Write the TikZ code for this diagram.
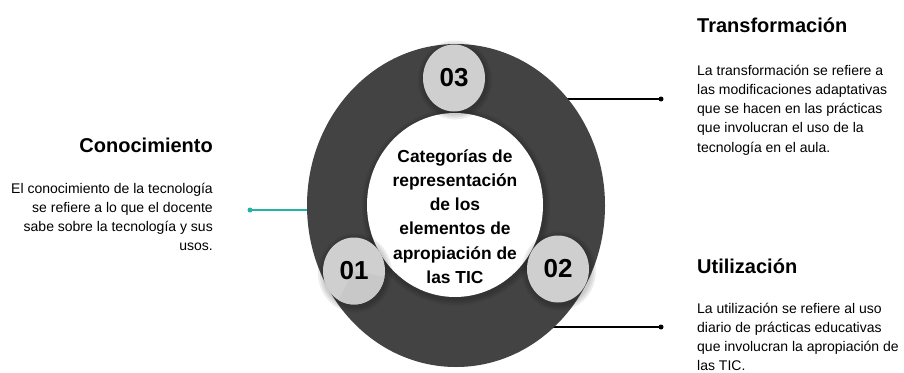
\documentclass[tikz,border=0pt]{standalone}
\usepackage{fontspec}
\setmainfont{Liberation Sans}
\usetikzlibrary{shapes.geometric}
\definecolor{ringgray}{HTML}{434343}
\definecolor{numgray}{HTML}{CFCFCF}
\definecolor{numdark}{HTML}{C8C8C8}
\definecolor{tealline}{HTML}{26B3A3}
\begin{document}
\begin{tikzpicture}[x=1pt,y=-1pt,
  titletext/.style={font=\bfseries\fontsize{20}{24}\selectfont, inner sep=0},
  bodytext/.style={font=\fontsize{14}{19.3}\selectfont, inner sep=0},
  numcirc/.style={ellipse, fill=numgray, minimum width=62, minimum height=67, inner sep=0, font=\bfseries\fontsize{26}{26}\selectfont},
  enddot/.style={circle, fill, inner sep=0, minimum size=5},
  softshadow/.style={fill=black, opacity=0.07}]
\useasboundingbox (0,0) rectangle (904,372);
\fill[white] (0,0) rectangle (904,372);
\coordinate (rc) at (456,205.5);
% connectors (drawn under the ring)
\node[enddot, tealline] (kdot) at (250,210) {};
\node[enddot] (tdot) at (661,99) {};
\node[enddot] (udot) at (661,327) {};
\draw[tealline, line width=1.4] (kdot.center) -- (rc |- kdot);
\draw[line width=1.2] (tdot.center) -- (rc |- tdot);
\draw[line width=1.2] (udot.center) -- (rc |- udot);
% ring
\node[ellipse, fill=ringgray, minimum width=298, minimum height=323, inner sep=0] (ring) at (rc) {};
% shadow of the core
\foreach \d in {2,4,6}{\fill[softshadow] (456,207) ellipse [x radius=88+\d, y radius=92+\d];}
\node[ellipse, fill=white, minimum width=176, minimum height=184, inner sep=0] (core) at (455,205) {};
\node[font=\bfseries\fontsize{17.4}{24.3}\selectfont, align=center, anchor=base, inner sep=0] (coretext) at (455,283.5)
  {Categorías de\\representación\\de los\\elementos de\\apropiación de\\las TIC};
% number circles with shadows
\foreach \x/\y in {454/78,354/271,558/269}{
  \foreach \d in {2,4,6}{\fill[softshadow] (\x+1,\y+2) ellipse [x radius=31+\d, y radius=33.5+\d];}
}
\node[numcirc] (n03) at (454,78) {03};
\node[numcirc] (n01) at (354,271) {};
\fill[numdark] (354,271) -- ++(10:31 and 33.5) arc[start angle=10, end angle=120, x radius=31, y radius=33.5] -- cycle;
\node[font=\bfseries\fontsize{26}{26}\selectfont, inner sep=0] (n01text) at (354,271) {01};
\node[numcirc] (n02) at (558,269) {02};
% texts
\node[titletext, anchor=base east] (ktitle) at (213,152) {Conocimiento};
\node[bodytext, align=right, anchor=base east] (kbody) at (213,250.9)
  {El conocimiento de la tecnología\\se refiere a lo que el docente\\sabe sobre la tecnología y sus\\usos.};
\node[titletext, anchor=base west] (ttitle) at (697,32) {Transformación};
\node[bodytext, align=left, anchor=base west] (tbody) at (697,152.2)
  {La transformación se refiere a\\las modificaciones adaptativas\\que se hacen en las prácticas\\que involucran el uso de la\\tecnología en el aula.};
\node[titletext, anchor=base west] (utitle) at (697,273) {Utilización};
\node[bodytext, align=left, anchor=base west] (ubody) at (697,370.9)
  {La utilización se refiere al uso\\diario de prácticas educativas\\que involucran la apropiación de\\las TIC.};
\end{tikzpicture}
\end{document}
